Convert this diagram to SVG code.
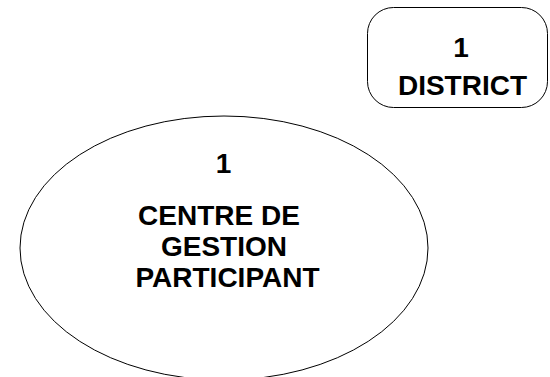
<svg xmlns="http://www.w3.org/2000/svg" width="550" height="377" viewBox="0 0 550 377">
<style>
.shape{fill:#fff;stroke:#000;stroke-width:1}
.t{font-family:"Liberation Sans",Arial,sans-serif;font-weight:bold;font-size:28px;fill:#000;text-anchor:middle}
</style>
<rect width="550" height="377" fill="#fff"/>
<g id="connectors"></g>
<g id="district">
<rect class="shape" x="367.5" y="7.5" width="180" height="100" rx="26" ry="26"/>
<text class="t" x="461" y="57">1</text>
<text class="t" x="462.5" y="95">DISTRICT</text>
</g>
<g id="centre-gestion">
<ellipse class="shape" cx="224" cy="248" rx="204" ry="132"/>
<text class="t" x="223.5" y="173">1</text>
<text class="t" x="219" y="225">CENTRE DE</text>
<text class="t" x="224" y="256">GESTION</text>
<text class="t" x="227.5" y="287">PARTICIPANT</text>
</g>
</svg>
